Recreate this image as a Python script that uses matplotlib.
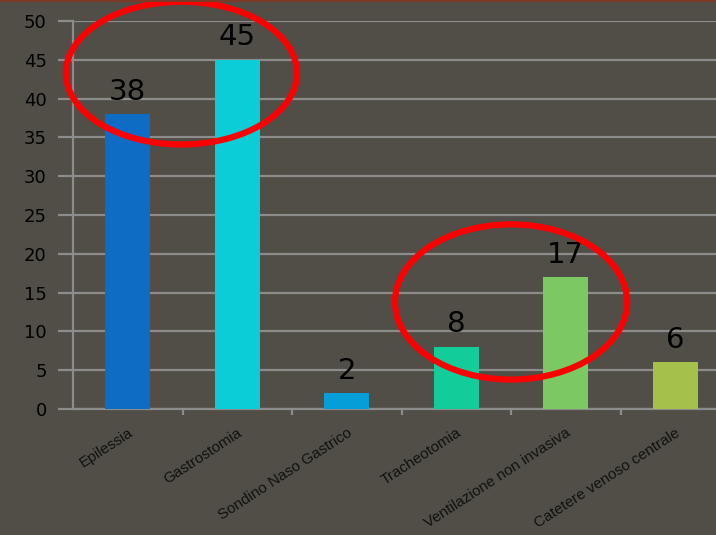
import matplotlib.pyplot as plt
from matplotlib.patches import Ellipse
from matplotlib.lines import Line2D

plt.rcParams['font.family'] = ['Liberation Sans', 'DejaVu Sans']

# dati del grafico
categorie = ['Epilessia', 'Gastrostomia', 'Sondino Naso Gastrico', 'Tracheotomia',
             'Ventilazione non invasiva', 'Catetere venoso centrale']
valori = [38, 45, 2, 8, 17, 6]
colori = ['#0F6CC4', '#0BCDD8', '#069ED8', '#12CD99', '#7CC963', '#A5C14B']

sfondo = '#504E46'
grigio = '#8C8C8C'

fig = plt.figure(figsize=(7.16, 5.35), dpi=100, facecolor=sfondo)
ax = fig.add_axes([0.102, 0.2355, 0.9176, 0.725], facecolor=sfondo)

x = list(range(len(categorie)))
ax.bar(x, valori, width=0.41, color=colori, zorder=3)

# etichette sopra le barre
for xi, v in zip(x, valori):
    ax.text(xi, v + 1.1, str(v), ha='center', va='bottom', fontsize=21,
            family='DejaVu Sans', color='black', zorder=4)

ax.set_xlim(-0.5, 5.5)
ax.set_ylim(0, 50)
ax.set_yticks(range(0, 51, 5))
ax.yaxis.grid(True, color=grigio, linewidth=1.6, zorder=0)
ax.tick_params(axis='y', colors=grigio, length=11, width=1.6, labelcolor='black', pad=8)
for t in ax.get_yticklabels():
    t.set_family('DejaVu Sans')
    t.set_fontsize(13)

ax.set_xticks(x)
ax.set_xticklabels(categorie, rotation=33, ha='right', rotation_mode='anchor', fontsize=11, color='#111111')
ax.tick_params(axis='x', length=0, pad=12)
ax.set_xticks([i + 0.5 for i in x], minor=True)
ax.tick_params(axis='x', which='minor', length=4, width=1.6, color=grigio)

for s in ['top', 'right']:
    ax.spines[s].set_visible(False)
for s in ['left', 'bottom']:
    ax.spines[s].set_color(grigio)
    ax.spines[s].set_linewidth(1.6)

# cerchi rossi di evidenziazione
ax.add_patch(Ellipse((0.49, 43.3), 2.11, 18.4, fill=False, edgecolor='#FF0000', linewidth=4.5, clip_on=False, zorder=5))
ax.add_patch(Ellipse((3.5, 13.8), 2.12, 20.0, fill=False, edgecolor='#FF0000', linewidth=4.5, clip_on=False, zorder=5))

# sottile bordo rossastro in alto
fig.add_artist(Line2D([0, 1], [0.999, 0.999], color='#7A3A28', linewidth=1.5, transform=fig.transFigure))

fig.savefig('out.png', dpi=100, facecolor=sfondo)
